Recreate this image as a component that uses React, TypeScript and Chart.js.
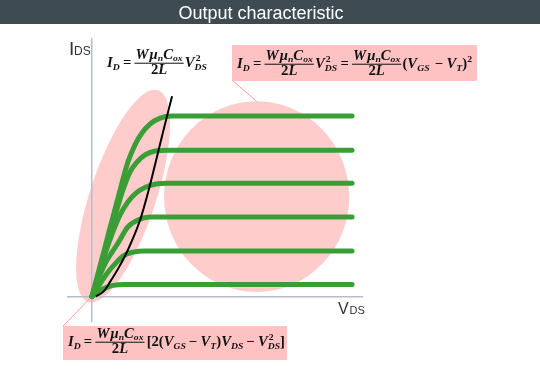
import { useEffect, useRef } from 'react';
import { Chart, registerables } from 'chart.js';

Chart.register(...registerables);

// ---- data (V_DS on x, I_D on y, arbitrary units) ----
const titleText = 'Output characteristic';
const vdsRange: [number, number] = [-0.96, 10.42];
const idRange: [number, number] = [-0.85, 8.62];

type Pt = [number, number];

const curveVgs6: Pt[] = [[0, 0], [0.54, 1.78], [1.08, 3.55], [1.38, 4.48], [1.65, 5.05], [1.92, 5.45], [2.23, 5.75], [2.62, 5.95], [3.08, 6.02], [10, 6.02]];
const curveVgs5: Pt[] = [[0, 0], [0.62, 1.88], [1.19, 3.55], [1.46, 4.15], [1.73, 4.48], [2.04, 4.72], [2.42, 4.85], [2.92, 4.88], [10, 4.88]];
const curveVgs4: Pt[] = [[0, 0], [0.62, 1.72], [1.08, 2.72], [1.38, 3.15], [1.69, 3.45], [2.08, 3.65], [2.46, 3.75], [2.85, 3.78], [10, 3.78]];
const curveVgs3: Pt[] = [[0, 0], [0.46, 1.02], [0.77, 1.48], [1.0, 1.78], [1.38, 2.32], [1.77, 2.55], [2.23, 2.65], [10, 2.65]];
const curveVgs2: Pt[] = [[0, 0], [0.31, 0.42], [0.62, 0.82], [0.88, 1.08], [1.19, 1.35], [1.58, 1.48], [2.04, 1.52], [10, 1.52]];
const curveVgs1: Pt[] = [[0, 0], [0.23, 0.18], [0.5, 0.28], [0.81, 0.37], [1.27, 0.4], [1.85, 0.4], [10, 0.4]];
const greenCurves: Pt[][] = [curveVgs6, curveVgs5, curveVgs4, curveVgs3, curveVgs2, curveVgs1];

const pinchOffBoundary: Pt[] = [[0.15, 0], [0.46, 0.18], [0.69, 0.48], [1.04, 0.98], [1.38, 1.55], [1.85, 2.55], [2.15, 3.45], [2.42, 4.38], [2.73, 5.48], [3.08, 6.68]];

// linear region ellipse: bottom tip and top tip
const linearEllipseEnds: Pt[] = [[-0.15, -0.18], [2.54, 6.88]];
// saturation region circle: centre and (x, y) radii
const satCircleCenter: Pt = [6.33, 3.33];
const satCircleRadii: Pt = [3.56, 3.18];

// ---- formula typesetting ----
type It =
  | { k: 't'; s: string; up?: boolean }
  | { k: 'sub'; s: string }
  | { k: 'sup'; s: string }
  | { k: 'ss'; sup: string; sub: string }
  | { k: 'frac'; num: It[]; den: It[] }
  | { k: 'sp'; w: number };

const T = (s: string): It => ({ k: 't', s });
const U = (s: string): It => ({ k: 't', s, up: true });
const S = (s: string): It => ({ k: 'sub', s });
const P = (s: string): It => ({ k: 'sup', s });
const SS = (sup: string, sub: string): It => ({ k: 'ss', sup, sub });
const SP = (w: number): It => ({ k: 'sp', w });

const coef: It = { k: 'frac', num: [T('W'), SP(1), T('μ'), S('n'), T('C'), S('ox')], den: [U('2'), T('L')] };
const formulaTopLeft: It[] = [T('I'), S('D'), SP(3), U('='), SP(3), coef, SP(1), T('V'), SS('2', 'DS')];
const formulaTopRight: It[] = [T('I'), S('D'), SP(3), U('='), SP(3), coef, SP(1), T('V'), SS('2', 'DS'), SP(3), U('='), SP(3), coef, SP(1), U('('), T('V'), S('GS'), SP(5), U('−'), SP(3), T('V'), S('T'), U(')'), P('2')];
const formulaBottom: It[] = [T('I'), S('D'), SP(3), U('='), SP(3), coef, SP(2), U('['), U('2'), U('('), T('V'), S('GS'), SP(3), U('−'), SP(3), T('V'), S('T'), U(')'), T('V'), S('DS'), SP(3), U('−'), SP(3), T('V'), SS('2', 'DS'), U(']')];

const FF = '"Liberation Serif"';
const fontOf = (size: number, up?: boolean) => `${up ? 'bold' : 'italic bold'} ${size}px ${FF}`;

function textW(ctx: CanvasRenderingContext2D, s: string, size: number, up?: boolean) {
  ctx.font = fontOf(size, up);
  return ctx.measureText(s).width;
}

function layout(ctx: CanvasRenderingContext2D, items: It[], x: number, base: number, size: number, draw: boolean, subShift = 0.2): number {
  let cx = x;
  const sub = size * 0.66;
  for (const it of items) {
    if (it.k === 't') {
      const w = textW(ctx, it.s, size, it.up);
      if (draw) ctx.fillText(it.s, cx, base);
      cx += w;
    } else if (it.k === 'sub') {
      const w = textW(ctx, it.s, sub);
      if (draw) ctx.fillText(it.s, cx, base + size * subShift);
      cx += w;
    } else if (it.k === 'sup') {
      const w = textW(ctx, it.s, sub, true);
      if (draw) ctx.fillText(it.s, cx, base - size * 0.4);
      cx += w;
    } else if (it.k === 'ss') {
      const w1 = textW(ctx, it.sup, sub, true);
      if (draw) ctx.fillText(it.sup, cx + 1, base - size * 0.4);
      const w2 = textW(ctx, it.sub, sub);
      if (draw) ctx.fillText(it.sub, cx, base + size * 0.22);
      cx += Math.max(w1, w2);
    } else if (it.k === 'sp') {
      cx += it.w;
    } else if (it.k === 'frac') {
      const wn = layout(ctx, it.num, 0, 0, size, false);
      const wd = layout(ctx, it.den, 0, 0, size, false);
      const w = Math.max(wn, wd) + 2;
      if (draw) {
        const axis = base - size * 0.27;
        ctx.fillRect(cx, axis - 0.5, w, 1);
        layout(ctx, it.num, cx + (w - wn) / 2, axis - size * 0.33, size, true, 0.14);
        layout(ctx, it.den, cx + (w - wd) / 2, axis + size * 0.78, size, true);
      }
      cx += w;
    }
  }
  return cx - x;
}

function drawFormula(ctx: CanvasRenderingContext2D, items: It[], x: number, base: number, targetW: number, size: number) {
  ctx.save();
  ctx.textAlign = 'left';
  ctx.textBaseline = 'alphabetic';
  ctx.fillStyle = '#111';
  const w = layout(ctx, items, 0, 0, size, false);
  const sx = targetW / w;
  ctx.translate(x, 0);
  ctx.scale(sx, 1);
  layout(ctx, items, 0, base, size, true);
  ctx.restore();
}

const decor = {
  id: 'decor',
  beforeDraw(chart: any) {
    const { ctx } = chart;
    const xs = chart.scales.x;
    const ys = chart.scales.y;
    ctx.save();
    // title bar
    ctx.fillStyle = '#3e4b52';
    ctx.fillRect(0, 0, chart.width, 24);
    ctx.fillStyle = '#ffffff';
    ctx.font = '18px "Liberation Sans"';
    ctx.textAlign = 'center';
    ctx.textBaseline = 'alphabetic';
    ctx.fillText(titleText, 261, 19);
    // linear-region ellipse
    const x1 = xs.getPixelForValue(linearEllipseEnds[0][0]);
    const y1 = ys.getPixelForValue(linearEllipseEnds[0][1]);
    const x2 = xs.getPixelForValue(linearEllipseEnds[1][0]);
    const y2 = ys.getPixelForValue(linearEllipseEnds[1][1]);
    ctx.fillStyle = '#ffcccc';
    ctx.beginPath();
    ctx.ellipse((x1 + x2) / 2, (y1 + y2) / 2, Math.hypot(x2 - x1, y2 - y1) / 2, 33, Math.atan2(y2 - y1, x2 - x1), 0, Math.PI * 2);
    ctx.fill();
    // saturation circle
    const cx = xs.getPixelForValue(satCircleCenter[0]);
    const cy = ys.getPixelForValue(satCircleCenter[1]);
    const rx = Math.abs(xs.getPixelForValue(satCircleCenter[0] + satCircleRadii[0]) - cx);
    const ry = Math.abs(ys.getPixelForValue(satCircleCenter[1] + satCircleRadii[1]) - cy);
    ctx.beginPath();
    ctx.ellipse(cx, cy, rx, ry, 0, 0, Math.PI * 2);
    ctx.fill();
    ctx.restore();
  },
  afterDraw(chart: any) {
    const { ctx } = chart;
    const xs = chart.scales.x;
    const ys = chart.scales.y;
    const ox = xs.getPixelForValue(0);
    const oy = ys.getPixelForValue(0);
    const cx = xs.getPixelForValue(satCircleCenter[0]);
    const ctop = ys.getPixelForValue(satCircleCenter[1] + satCircleRadii[1]);
    ctx.save();
    // pointer lines
    ctx.strokeStyle = '#ff9c9c';
    ctx.lineWidth = 1;
    ctx.beginPath();
    ctx.moveTo(233, 81);
    ctx.lineTo(cx, ctop);
    ctx.moveTo(63, 326);
    ctx.lineTo(ox - 2, oy + 2);
    ctx.stroke();
    // boxes
    ctx.fillStyle = '#ffc2c2';
    ctx.fillRect(232, 45, 245, 36);
    ctx.fillRect(63, 326, 224, 34);
    // axis labels
    ctx.fillStyle = '#333';
    ctx.textAlign = 'left';
    ctx.textBaseline = 'alphabetic';
    ctx.font = '19px "Liberation Sans"';
    ctx.fillText('I', 69, 55);
    ctx.font = '12px "Liberation Sans"';
    ctx.fillText('DS', 74, 55);
    ctx.font = '16px "Liberation Sans"';
    ctx.fillText('V', 338, 313.5);
    ctx.font = '11px "Liberation Sans"';
    ctx.fillText('DS', 349.5, 313.5);
    ctx.restore();
    // formulas
    drawFormula(ctx, formulaTopLeft, 107, 67, 100, 14);
    drawFormula(ctx, formulaTopRight, 237, 68, 235, 14);
    drawFormula(ctx, formulaBottom, 68, 346, 217, 14);
  },
};

export default function App() {
  const ref = useRef<HTMLCanvasElement>(null);
  useEffect(() => {
    document.body.style.margin = '0';
    const canvas = ref.current;
    if (!canvas) return;
    const datasets: any[] = [
      {
        label: 'boundary',
        data: pinchOffBoundary.map(([x, y]) => ({ x, y })),
        borderColor: '#000000',
        borderWidth: 2,
        pointRadius: 0,
        cubicInterpolationMode: 'monotone',
        fill: false,
        order: 0,
      },
      ...greenCurves.map((c, i) => ({
        label: 'VGS' + (6 - i),
        data: c.map(([x, y]) => ({ x, y })),
        borderColor: '#3a9e36',
        borderWidth: 5,
        pointRadius: 0,
        cubicInterpolationMode: 'monotone',
        borderCapStyle: 'round',
        borderJoinStyle: 'round',
        fill: false,
        order: 1,
      })),
    ];
    const onlyZero = (s: any) => {
      s.ticks = [{ value: 0 }];
    };
    const chart = new Chart(canvas, {
      type: 'line',
      data: { datasets },
      options: {
        animation: false,
        responsive: false,
        devicePixelRatio: 1,
        layout: { padding: { left: 67, right: 177, top: 38, bottom: 54 } },
        plugins: { legend: { display: false }, tooltip: { enabled: false }, title: { display: false } },
        events: [],
        scales: {
          x: {
            type: 'linear',
            min: vdsRange[0],
            max: vdsRange[1],
            afterBuildTicks: onlyZero,
            ticks: { display: false },
            border: { display: false },
            grid: { color: '#b6bec9', lineWidth: 1.5, drawTicks: false },
          },
          y: {
            type: 'linear',
            min: idRange[0],
            max: idRange[1],
            afterBuildTicks: onlyZero,
            ticks: { display: false },
            border: { display: false },
            grid: { color: '#b6bec9', lineWidth: 1.5, drawTicks: false },
          },
        },
      },
      plugins: [decor],
    } as any);
    return () => chart.destroy();
  }, []);
  return (
    <div style={{ position: 'absolute', left: 0, top: 0, width: 540, height: 376, background: '#fff' }}>
      <canvas ref={ref} width={540} height={376} style={{ display: 'block' }} />
    </div>
  );
}
